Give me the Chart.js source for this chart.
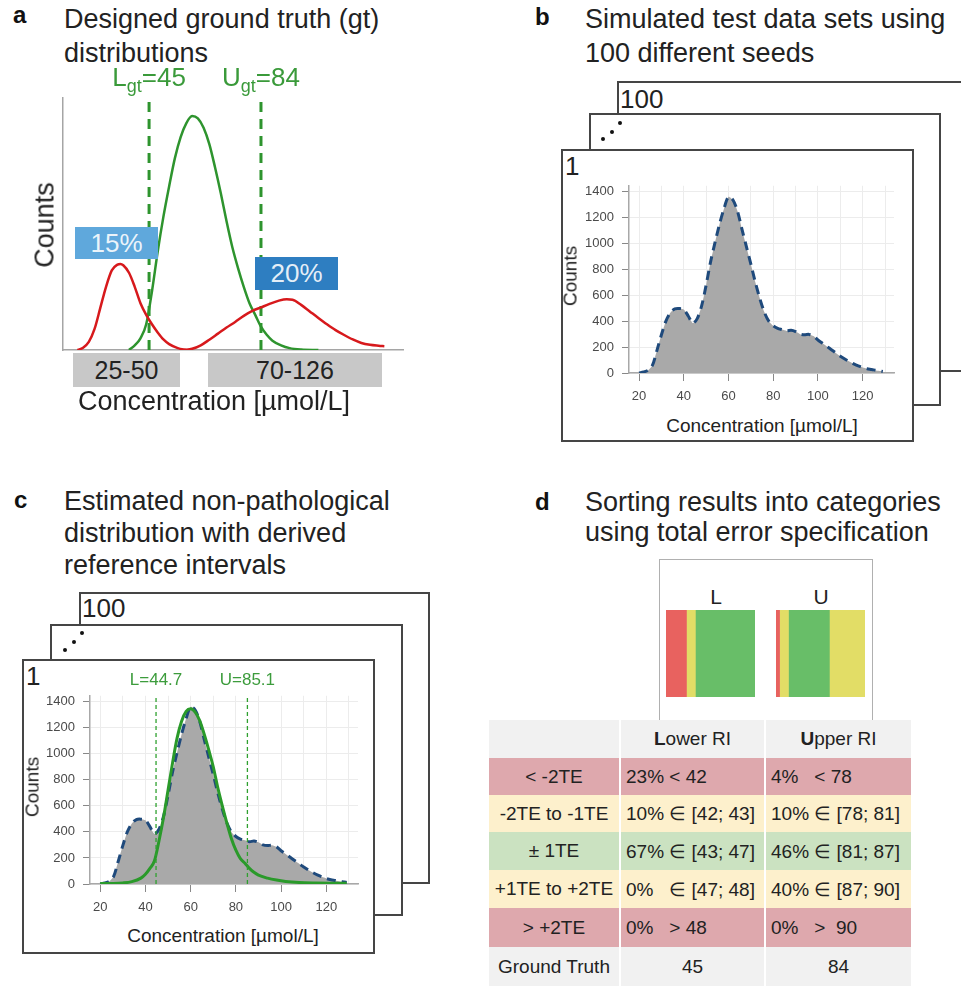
<!DOCTYPE html>
<html><head><meta charset="utf-8">
<script src="https://cdn.jsdelivr.net/npm/chart.js@4.4.1/dist/chart.umd.min.js"></script>
<style>
html,body{margin:0;padding:0;background:#fff;}
body{width:961px;height:986px;position:relative;overflow:hidden;font-family:"Liberation Sans",Arial,sans-serif;color:#222;}
.t{position:absolute;white-space:nowrap;}
.title{position:absolute;font-size:27px;line-height:34px;white-space:nowrap;color:#222;}
.letter{position:absolute;font-size:24px;line-height:24px;font-weight:bold;color:#111;}
.frame{position:absolute;border:2px solid #454545;background:#fff;box-sizing:border-box;}
canvas{position:absolute;}
.box{position:absolute;display:flex;align-items:center;justify-content:center;white-space:nowrap;}
.rot{position:absolute;white-space:nowrap;line-height:1;transform:translate(-50%,-50%) rotate(-90deg);}
.ctr{position:absolute;white-space:nowrap;transform:translateX(-50%);}
.dot{position:absolute;width:4px;height:4px;border-radius:2px;background:#111;}
table{position:absolute;border-collapse:collapse;font-size:19px;color:#222;}
td{padding:0;white-space:pre;}
</style>
</head><body>

<!-- panel a -->
<div class="letter" style="left:13px;top:3px;">a</div>
<div class="title" style="left:64px;top:2px;">Designed ground truth (gt)<br>distributions</div>
<canvas id="chartA" width="380" height="275" style="left:40px;top:85px;"></canvas>
<div id="lgtLabel" class="ctr" style="top:62px;font-size:26px;line-height:30px;color:#3a9a3a;">L<sub style="font-size:18px;vertical-align:-6px;">gt</sub>=45</div>
<div id="ugtLabel" class="ctr" style="top:62px;font-size:26px;line-height:30px;color:#3a9a3a;">U<sub style="font-size:18px;vertical-align:-6px;">gt</sub>=84</div>
<div class="box" style="left:75px;top:227px;width:83px;height:32px;background:#5fa8dc;color:rgba(255,255,255,0.88);font-size:26px;">15%</div>
<div class="box" style="left:255px;top:257px;width:83px;height:33px;background:#2e7ec1;color:rgba(255,255,255,0.88);font-size:26px;">20%</div>
<div class="box" style="left:73px;top:353px;width:107px;height:34px;background:#c8c8c8;font-size:25px;">25-50</div>
<div class="box" style="left:208px;top:353px;width:174px;height:34px;background:#c8c8c8;font-size:25px;">70-126</div>
<div class="rot" style="left:45px;top:225px;font-size:27px;">Counts</div>
<div class="ctr" style="left:214px;top:388px;font-size:27px;line-height:27px;">Concentration [µmol/L]</div>

<!-- panel b -->
<div class="letter" style="left:535px;top:5px;">b</div>
<div class="title" style="left:585px;top:2px;">Simulated test data sets using<br>100 different seeds</div>
<div class="frame" style="left:617px;top:81px;width:352px;height:291px;"></div>
<div class="frame" style="left:589px;top:113px;width:352px;height:293px;"></div>
<div class="frame" style="left:561px;top:149px;width:353px;height:293px;"></div>
<div class="t" style="left:620px;top:86px;font-size:26px;line-height:26px;">100</div>
<div class="dot" style="left:601px;top:137px;"></div>
<div class="dot" style="left:610px;top:130px;"></div>
<div class="dot" style="left:618px;top:121px;"></div>
<div class="t" style="left:565px;top:153px;font-size:26px;line-height:26px;">1</div>
<canvas id="chartB" width="340" height="236" style="left:565px;top:170px;"></canvas>
<div class="rot" style="left:570px;top:276px;font-size:19px;">Counts</div>
<div class="ctr" style="left:762px;top:416px;font-size:19px;line-height:19px;">Concentration [µmol/L]</div>

<!-- panel c -->
<div class="letter" style="left:14px;top:488px;">c</div>
<div class="title" style="left:64px;top:485px;line-height:32px;">Estimated non-pathological<br>distribution with derived<br>reference intervals</div>
<div class="frame" style="left:79px;top:592px;width:351px;height:292px;"></div>
<div class="frame" style="left:50px;top:624px;width:353px;height:292px;"></div>
<div class="frame" style="left:22px;top:659px;width:353px;height:295px;"></div>
<div class="t" style="left:82px;top:595px;font-size:26px;line-height:26px;">100</div>
<div class="dot" style="left:63px;top:648px;"></div>
<div class="dot" style="left:72px;top:640px;"></div>
<div class="dot" style="left:80px;top:631px;"></div>
<div class="t" style="left:26px;top:663px;font-size:26px;line-height:26px;">1</div>
<canvas id="chartC" width="342" height="237" style="left:26px;top:680px;"></canvas>
<div id="lLabel" class="ctr" style="top:671px;font-size:17px;line-height:17px;color:#3c9c3c;">L=44.7</div>
<div id="uLabel" class="ctr" style="top:671px;font-size:17px;line-height:17px;color:#3c9c3c;">U=85.1</div>
<div class="rot" style="left:32px;top:787px;font-size:19px;">Counts</div>
<div class="ctr" style="left:223px;top:926px;font-size:19px;line-height:19px;">Concentration [µmol/L]</div>

<!-- panel d -->
<div class="letter" style="left:535px;top:490px;">d</div>
<div class="title" style="left:585px;top:487px;line-height:30px;">Sorting results into categories<br>using total error specification</div>
<div style="position:absolute;left:659px;top:559px;width:214px;height:170px;border:1.5px solid #b0b0b0;box-sizing:border-box;"></div>
<div class="ctr" style="left:716px;top:586px;font-size:21px;line-height:21px;">L</div>
<div class="ctr" style="left:821px;top:586px;font-size:21px;line-height:21px;">U</div>
<canvas id="barL" width="89" height="87" style="left:666px;top:610px;"></canvas>
<canvas id="barU" width="89" height="87" style="left:776px;top:610px;"></canvas>
<table id="tbl" style="left:489px;top:720px;"></table>

<script>
// ---------- data ----------
// panel a: designed ground truth distributions (relative heights)
const nonpathX = [38,40,42,44,46,48,50,52,54,56,58,60,62,64,66,68,70,72,74,76,78,80,82,84,86,88,91,94,98,104];
const nonpathY = [0,0.02,0.05,0.11,0.25,0.42,0.57,0.70,0.82,0.91,0.97,1.0,0.99,0.95,0.88,0.78,0.67,0.55,0.44,0.35,0.27,0.20,0.15,0.10,0.065,0.04,0.02,0.008,0.002,0];
const pathLowX = [20,22,24,26,28,30,32,34,35,36,38,40,42,44,46,48,50,52,55,58];
const pathLowY = [0,0.01,0.035,0.09,0.18,0.27,0.34,0.365,0.368,0.362,0.33,0.27,0.20,0.15,0.11,0.075,0.045,0.025,0.008,0];
const pathHighX = [57,60,63,66,69,72,75,78,81,84,87,90,93,95,98,101,104,107,110,113,116,119,122,125,127];
const pathHighY = [0,0.005,0.02,0.044,0.07,0.096,0.12,0.146,0.167,0.182,0.197,0.21,0.217,0.215,0.193,0.165,0.137,0.11,0.085,0.064,0.045,0.03,0.022,0.018,0.016];
const gtLimits = [45,84];

// panels b & c: simulated data set (counts)
const histX = [20,22,24,26,28,30,32,34,36,38,40,42,44,46,48,50,52,54,56,58,60,62,64,66,68,70,72,74,76,78,80,82,84,86,88,90,92,94,96,98,100,102,104,106,108,110,112,114,116,118,120,122,124,126,128,129];
const histCounts = [0,8,20,60,175,295,400,465,495,498,490,440,385,420,520,680,860,1010,1150,1270,1360,1335,1250,1110,975,840,700,575,470,400,365,345,335,325,330,320,300,295,298,285,255,230,205,180,155,130,108,88,70,55,42,33,27,20,15,12];

// panel c: estimated non-pathological distribution
const estX = [20,25,30,34,38,40,42,44,46,48,50,52,54,56,58,60,62,64,66,68,70,72,74,76,78,80,82,84,86,88,90,94,98,102,108,115,122,129];
const estCounts = [3,4,8,18,45,75,120,178,330,510,720,930,1120,1250,1325,1345,1320,1255,1150,1030,900,740,600,470,350,260,195,160,120,90,68,45,30,20,12,8,6,5];
const estLimits = [44.7,85.1];

const xTickLabels = [20,40,60,80,100,120];
const xGridVals = [20,30,40,50,60,70,80,90,100,110,120,130];
const yTickLabels = [0,200,400,600,800,1000,1200,1400];

// panel d
const categories = ['< -2TE','-2TE to -1TE','± 1TE','+1TE to +2TE','> +2TE'];
const lowerPct = [23,10,67,0,0];
const upperPct = [4,10,46,40,0];
const lowerRange = ['< 42','∈ [42; 43]','∈ [43; 47]','∈ [47; 48]','> 48'];
const upperRange = ['< 78','∈ [78; 81]','∈ [81; 87]','∈ [87; 90]','>  90'];
const groundTruth = [45,84];

// ---------- styles ----------
const FAM = '"Liberation Sans", Arial, sans-serif';
Chart.defaults.font.family = FAM;
const GREEN = '#2e942e';
const RED = '#d7191c';
const barColors = ['#e8625f','#e2dd66','#68be68','#e2dd66','#e8625f'];
const rowColors = ['#dea8ad','#fdf0cc','#cbe2c1','#fdf0cc','#dea8ad'];

const pts = (xs, ys) => xs.map((x,i)=>({x:x,y:ys[i]}));
const vline = (x, top) => [{x:x,y:0},{x:x,y:top}];
const noPlug = {legend:{display:false},tooltip:{enabled:false}};

// ---------- panel a ----------
const chartA = new Chart(document.getElementById('chartA'), {
  type:'line',
  data:{datasets:[
    {data:pts(pathLowX,pathLowY), borderColor:RED, borderWidth:2.5, pointRadius:0, cubicInterpolationMode:'monotone'},
    {data:pts(pathHighX,pathHighY), borderColor:RED, borderWidth:2.5, pointRadius:0, cubicInterpolationMode:'monotone'},
    {data:pts(nonpathX,nonpathY), borderColor:GREEN, borderWidth:2.5, pointRadius:0, cubicInterpolationMode:'monotone'},
    {data:vline(gtLimits[0],1.065), borderColor:GREEN, borderWidth:3, borderDash:[10,7], pointRadius:0},
    {data:vline(gtLimits[1],1.065), borderColor:GREEN, borderWidth:3, borderDash:[10,7], pointRadius:0}
  ]},
  options:{
    responsive:false, animation:false, devicePixelRatio:1,
    layout:{padding:{left:23,top:13,right:17,bottom:10}},
    plugins:noPlug,
    scales:{
      x:{type:'linear',min:15,max:133.5,ticks:{display:false},grid:{display:false,drawTicks:false},
         border:{display:true,color:'#a5a5a5',width:1.5},afterFit:s=>{s.height=0;}},
      y:{min:0,max:1.077,ticks:{display:false},grid:{display:false,drawTicks:false},
         border:{display:true,color:'#a5a5a5',width:1.5},afterFit:s=>{s.width=0;}}
    }
  }
});
(function(){
  const xs = chartA.scales.x;
  document.getElementById('lgtLabel').style.left = (40 + xs.getPixelForValue(gtLimits[0])) + 'px';
  document.getElementById('ugtLabel').style.left = (40 + xs.getPixelForValue(gtLimits[1])) + 'px';
})();

// ---------- panels b & c ----------
function histScales(){
  return {
    x:{type:'linear',min:15.5,max:134,
       afterBuildTicks:s=>{s.ticks=xGridVals.map(v=>({value:v}));},
       afterFit:s=>{s.height=33;},
       ticks:{autoSkip:false,maxRotation:0,padding:8,color:'#4a4a4a',font:{size:13,family:FAM},
              callback:v=> xTickLabels.includes(v) ? String(v) : ''},
       grid:{color:'#ececec',lineWidth:1,tickLength:8,
             tickColor:c=> (c.tick && xTickLabels.includes(c.tick.value)) ? '#888' : 'rgba(0,0,0,0)'},
       border:{display:true,color:'#a8a8a8',width:1.5}},
    y:{min:0,max:1445,
       afterBuildTicks:s=>{s.ticks=yTickLabels.map(v=>({value:v}));},
       afterFit:s=>{s.width=64;},
       ticks:{autoSkip:false,padding:8,color:'#4a4a4a',font:{size:13,family:FAM},callback:v=>String(v)},
       grid:{color:'#ececec',lineWidth:1,tickLength:7,tickColor:'#888'},
       border:{display:true,color:'#a8a8a8',width:1.5}}
  };
}
function histDatasets(){
  return [
    {data:pts(histX,histCounts), borderWidth:0, borderColor:'rgba(0,0,0,0)', backgroundColor:'#a9a9a9', fill:'origin', pointRadius:0, tension:0.2, order:3},
    {data:pts(histX,histCounts), borderColor:'#1f4a7c', borderWidth:3, borderDash:[9,6], pointRadius:0, fill:false, tension:0.3, order:2}
  ];
}
new Chart(document.getElementById('chartB'), {
  type:'line',
  data:{datasets:histDatasets()},
  options:{responsive:false, animation:false, devicePixelRatio:1,
    layout:{padding:{left:0,top:10,right:11,bottom:0}}, plugins:noPlug, scales:histScales()}
});
const dsC = histDatasets();
dsC.push({data:pts(estX,estCounts), borderColor:'#2a9a2a', borderWidth:3, pointRadius:0, fill:false, cubicInterpolationMode:'monotone', order:1});
dsC.push({data:vline(estLimits[0],1445), borderColor:'#2fa02f', borderWidth:1.3, borderDash:[4,3], pointRadius:0, fill:false, order:0});
dsC.push({data:vline(estLimits[1],1445), borderColor:'#2fa02f', borderWidth:1.3, borderDash:[4,3], pointRadius:0, fill:false, order:0});
const chartC = new Chart(document.getElementById('chartC'), {
  type:'line',
  data:{datasets:dsC},
  options:{responsive:false, animation:false, devicePixelRatio:1,
    layout:{padding:{left:0,top:10,right:10,bottom:0}}, plugins:noPlug, scales:histScales()}
});
(function(){
  const xs = chartC.scales.x;
  document.getElementById('lLabel').style.left = (26 + xs.getPixelForValue(estLimits[0])) + 'px';
  document.getElementById('uLabel').style.left = (26 + xs.getPixelForValue(estLimits[1])) + 'px';
})();

// ---------- panel d bars ----------
function stackBar(id, pcts){
  return new Chart(document.getElementById(id), {
    type:'bar',
    data:{labels:[''], datasets:categories.map((c,i)=>({label:c, data:[pcts[i]], backgroundColor:barColors[i], borderWidth:0, barPercentage:1, categoryPercentage:1}))},
    options:{indexAxis:'y', responsive:false, animation:false, devicePixelRatio:1,
      layout:{padding:0}, plugins:noPlug,
      scales:{x:{stacked:true,min:0,max:100,display:false}, y:{stacked:true,display:false}}}
  });
}
stackBar('barL', lowerPct);
stackBar('barU', upperPct);

// ---------- panel d table ----------
(function(){
  const tbl = document.getElementById('tbl');
  const widths = [130,143,145];
  const heights = [38,37,37,38,38,39,39];
  const cellStyle = (bg, w, h, align, last) =>
    `background:${bg};width:${w}px;height:${h}px;text-align:${align};vertical-align:middle;` +
    (last ? '' : 'border-right:2px solid #fff;') + (align==='left' ? 'padding-left:5px;box-sizing:border-box;' : '');
  let html = '';
  html += `<tr><td style="${cellStyle('#f1f1f1',widths[0],heights[0],'center')}"></td>` +
          `<td style="${cellStyle('#f1f1f1',widths[1],heights[0],'center')}"><b>L</b>ower RI</td>` +
          `<td style="${cellStyle('#f1f1f1',widths[2],heights[0],'center',true)}"><b>U</b>pper RI</td></tr>`;
  const fmt = (p, r) => p + '%' + (p < 10 ? '   ' : ' ') + r;
  categories.forEach((c,i)=>{
    const bg = rowColors[i], h = heights[i+1];
    html += `<tr><td style="${cellStyle(bg,widths[0],h,'center')}">${c}</td>` +
            `<td style="${cellStyle(bg,widths[1],h,'left')}">${fmt(lowerPct[i], lowerRange[i])}</td>` +
            `<td style="${cellStyle(bg,widths[2],h,'left',true)}">${fmt(upperPct[i], upperRange[i])}</td></tr>`;
  });
  html += `<tr><td style="${cellStyle('#f1f1f1',widths[0],heights[6],'center')}">Ground Truth</td>` +
          `<td style="${cellStyle('#f1f1f1',widths[1],heights[6],'center')}">${groundTruth[0]}</td>` +
          `<td style="${cellStyle('#f1f1f1',widths[2],heights[6],'center',true)}">${groundTruth[1]}</td></tr>`;
  tbl.innerHTML = html;
})();
</script>
</body></html>
